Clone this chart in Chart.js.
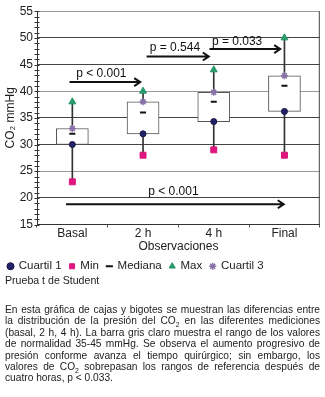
<!DOCTYPE html>
<html>
<head>
<meta charset="utf-8">
<script src="https://cdn.jsdelivr.net/npm/chart.js@4.4.1/dist/chart.umd.min.js"></script>
<style>
  body { margin: 0; background: #fff; font-family: "Liberation Sans", Arial, sans-serif; color: #222; }
  #grafica { position: relative; width: 325px; height: 282px; }
  .nota { position: absolute; left: 5px; top: 274px; font-size: 10.6px; }
  .texto { position: absolute; left: 5px; top: 304px; width: 315px; font-size: 10.2px; line-height: 11.4px; margin: 0; }
  .texto span { display: block; white-space: nowrap; text-align: justify; text-align-last: justify; }
  .texto span.fin { text-align-last: left; }
  sub { font-size: 7px; line-height: 0; }
</style>
</head>
<body>
<div id="grafica"><canvas id="cajas"></canvas></div>
<div class="nota">Prueba t de Student</div>
<div class="texto">
  <span>En esta gráfica de cajas y bigotes se muestran las diferencias entre</span>
  <span>la distribución de la presión del CO<sub>2</sub> en las diferentes mediciones</span>
  <span>(basal, 2 h, 4 h). La barra gris claro muestra el rango de los valores</span>
  <span>de normalidad 35-45 mmHg. Se observa el aumento progresivo de</span>
  <span>presión conforme avanza el tiempo quirúrgico; sin embargo, los</span>
  <span>valores de CO<sub>2</sub> sobrepasan los rangos de referencia después de</span>
  <span class="fin">cuatro horas, p &lt; 0.033.</span>
</div>

<script>
// Datos de la gráfica (CO2 mmHg)
const categorias = ['Basal', '2 h', '4 h', 'Final'];
const minimo   = [23, 28, 29, 28];
const cuartil1 = [30, 32, 34.3, 36.2];
const mediana  = [32, 36, 38, 41];
const cuartil3 = [33, 38, 39.8, 42.9];
const maximo   = [38, 40, 44, 50];
const ticksY   = [15, 20, 25, 30, 35, 40, 45, 50, 55];

// Comparaciones (flechas con valor p), posiciones en unidades de categoría / mmHg
const pTextos = ['p < 0.001', 'p = 0.544', 'p = 0.033', 'p < 0.001'];
const pDesde  = [-0.04, 1.05, 1.94, -0.09];
const pHasta  = [0.96, 1.93, 2.94, 2.99];
const pNivel  = [41.7, 46.5, 47.9, 18.8];
const pTextoX = [0.41, 1.45, 2.33, 1.43];
const pTextoY = [43.2, 48.1, 49.2, 21.1];

const fuente = '"Liberation Sans", Arial, sans-serif';
const lineasOscuras = [20, 30, 35, 45, 50];

// Marco, marcas menores del eje Y y flechas
const extras = {
  id: 'extras',
  afterDatasetsDraw(chart) {
    const { ctx, chartArea: a, scales: { x, y } } = chart;
    ctx.save();
    ctx.strokeStyle = '#444';
    ctx.lineWidth = 1;
    ctx.beginPath();
    ctx.moveTo(a.right - 0.5, a.top);
    ctx.lineTo(a.right - 0.5, a.bottom);
    ctx.stroke();

    // marcas menores cada 1 mmHg
    ctx.strokeStyle = '#333';
    for (let v = ticksY[0]; v <= ticksY[ticksY.length - 1]; v++) {
      const py = Math.round(y.getPixelForValue(v)) + 0.5;
      ctx.beginPath();
      ctx.moveTo(a.left - 2.5, py);
      ctx.lineTo(a.left + 2.5, py);
      ctx.stroke();
    }

    // flechas
    ctx.strokeStyle = '#111';
    ctx.fillStyle = '#111';
    ctx.lineWidth = 2;
    ctx.font = '12px ' + fuente;
    ctx.textAlign = 'center';
    ctx.textBaseline = 'middle';
    pTextos.forEach((t, i) => {
      const x1 = x.getPixelForValue(pDesde[i]);
      const x2 = x.getPixelForValue(pHasta[i]);
      const py = y.getPixelForValue(pNivel[i]);
      ctx.beginPath();
      ctx.moveTo(x1, py);
      ctx.lineTo(x2, py);
      ctx.moveTo(x2 - 6, py - 4);
      ctx.lineTo(x2, py);
      ctx.lineTo(x2 - 6, py + 4);
      ctx.stroke();
      ctx.fillText(t, x.getPixelForValue(pTextoX[i]), y.getPixelForValue(pTextoY[i]));
    });
    ctx.restore();
  }
};

const puntos = (label, data, estilo, color, relleno, radio, grosor) => ({
  type: 'line',
  label: label,
  data: data,
  showLine: false,
  pointStyle: estilo,
  pointRadius: radio,
  pointHoverRadius: radio,
  borderColor: color,
  backgroundColor: relleno,
  pointBorderWidth: grosor,
  borderWidth: grosor,
  order: 0
});

new Chart(document.getElementById('cajas'), {
  type: 'bar',
  data: {
    labels: categorias,
    datasets: [
      {
        label: 'bigote',
        data: minimo.map((v, i) => [v, maximo[i]]),
        backgroundColor: '#333',
        barThickness: 1,
        grouped: false,
        order: 3
      },
      {
        label: 'caja',
        data: cuartil1.map((v, i) => [v, cuartil3[i]]),
        backgroundColor: '#fff',
        borderColor: '#555',
        borderWidth: 1,
        borderSkipped: false,
        barThickness: 32,
        grouped: false,
        order: 2
      },
      puntos('Cuartil 1', cuartil1, 'circle', '#141442', '#23236a', 3, 1),
      puntos('Min', minimo, 'rect', '#d9147c', '#e0167f', 4.2, 1),
      puntos('Mediana', mediana, 'line', '#111', '#111', 3, 2),
      puntos('Max', maximo, 'triangle', '#239467', '#2a9c6c', 4, 1),
      puntos('Cuartil 3', cuartil3, 'star', '#8670a6', '#8670a6', 3.5, 1.5)
    ]
  },
  options: {
    responsive: true,
    maintainAspectRatio: false,
    animation: false,
    layout: { padding: { top: 10, right: 2, left: 0, bottom: 0 } },
    plugins: {
      legend: {
        position: 'bottom',
        align: 'start',
        labels: {
          usePointStyle: true,
          boxWidth: 5,
          boxHeight: 5,
          padding: 8,
          color: '#222',
          font: { family: fuente, size: 11.5 },
          filter: item => item.datasetIndex >= 2
        }
      },
      tooltip: { enabled: false }
    },
    scales: {
      x: {
        offset: true,
        grid: { offset: true, drawOnChartArea: false, tickLength: 3, color: '#555' },
        border: { color: '#333' },
        ticks: { color: '#222', font: { family: fuente, size: 12, lineHeight: 1 }, padding: 0 },
        title: {
          display: true,
          text: 'Observaciones',
          color: '#222',
          font: { family: fuente, size: 12, lineHeight: 1 },
          padding: { top: 1, bottom: 0 }
        }
      },
      y: {
        min: 15,
        max: 55,
        afterBuildTicks: s => { s.ticks = ticksY.map(v => ({ value: v })); },
        afterFit: s => { s.width = 37; },
        grid: {
          drawTicks: false,
          color: c => lineasOscuras.includes(c.tick.value) ? '#444' : '#9a9a9a'
        },
        border: { color: '#333' },
        ticks: { color: '#222', font: { family: fuente, size: 12 }, padding: 4 },
        title: {
          display: true,
          text: 'CO₂ mmHg',
          color: '#222',
          font: { family: fuente, size: 12 },
          padding: { top: 3, bottom: 0 }
        }
      }
    }
  },
  plugins: [extras]
});
</script>
</body>
</html>
